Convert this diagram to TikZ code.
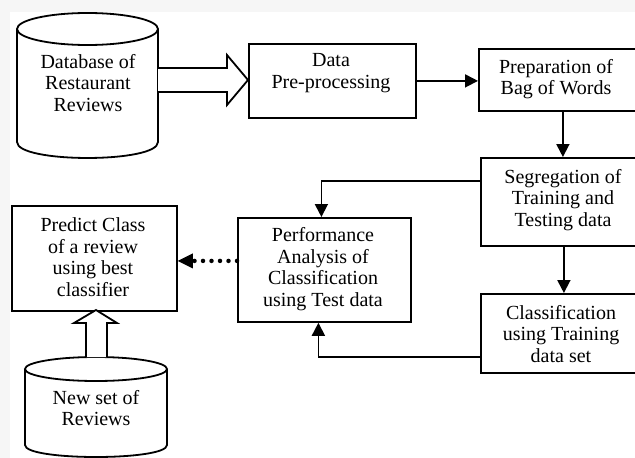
\documentclass[tikz,border=0pt]{standalone}
\usepackage{fontspec}
\setmainfont{Liberation Serif}
\usetikzlibrary{arrows.meta,calc}
\begin{document}
\begin{tikzpicture}[x=1pt,y=-1pt,
  box/.style={draw, line width=1.8pt, rectangle, anchor=north west, inner sep=0pt},
  txt/.style={align=center, inner sep=0pt, font=\fontsize{20}{21.5}\selectfont},
  conn/.style={line width=1.8pt, -{Triangle[length=13pt,width=13pt]}},
  dotarrow/.style={line width=4.5pt, dash pattern=on 0pt off 8.5pt, line cap=round,
    -{Triangle[length=15pt,width=15pt,line width=0pt]}},
  shape line/.style={line width=1.8pt, fill=white, line join=miter}
]
\useasboundingbox (0,0) rectangle (635,458);
\fill[gray!7] (0,0) rectangle (635,458);
\fill[white] (10,12) rectangle (635,458);

% database cylinder
\draw[shape line] (17,29) -- (17,142) .. controls (17,163.3) and (158,163.3) .. (158,142) -- (158,29);
\draw[shape line] (87.5,29) ellipse [x radius=70.5, y radius=16];
\node[txt] (dbt) at (88,83) {Database of\\Restaurant\\Reviews};

% boxes
\node[box, minimum width=167pt, minimum height=74pt] (pre) at (248,43) {};
\node[txt] (pret) at (331,73) {Data\\Pre-processing};
\node[box, minimum width=168pt, minimum height=62pt] (prep) at (478,48) {};
\node[txt] (prept) at (556,79) {Preparation of\\Bag of Words};
\node[box, minimum width=166pt, minimum height=88pt] (seg) at (480,157) {};
\node[txt] (segt) at (563,200) {Segregation of\\Training and\\Testing data};
\node[box, minimum width=173pt, minimum height=104pt] (perf) at (237,217) {};
\node[txt] (perft) at (323,269) {Performance\\Analysis of\\Classification\\using Test data};
\node[box, minimum width=166pt, minimum height=79pt] (cls) at (480,293) {};
\node[txt] (clst) at (561,334) {Classification\\using Training\\data set};
\node[box, minimum width=165pt, minimum height=105pt] (pred) at (11,205) {};
\node[txt] (predt) at (93,257) {Predict Class\\of a review\\using best\\classifier};

% new set cylinder
\draw[shape line] (25,369) -- (25,445) .. controls (25,461) and (167,461) .. (167,445) -- (167,369);
\draw[shape line] (96,369) ellipse [x radius=71, y radius=12];
\node[txt] (newt) at (96,408) {New set of\\Reviews};

% block arrows
\draw[shape line] (158,68) -- (227,68) -- (227,55) -- (248,80) -- (227,105) -- (227,92) -- (158,92);
\draw[shape line] (86,357) -- (86,323) -- (74,323) -- (96,310) -- (117,323) -- (107,323) -- (107,357);

% connectors
\draw[conn] (pre.east) -- (pre.east -| prep.west);
\draw[conn] (prep.south) -- (prep.south |- seg.north);
\coordinate (s1) at ($(seg.west)+(0,-21)$);
\draw[conn] (s1) -| ($(perf.north)+(-3,0)$);
\draw[conn] (seg.south) -- (seg.south |- cls.north);
\coordinate (c1) at ($(cls.west)+(0,23.5)$);
\draw[conn] (c1) -| ($(perf.south)+(-6,0)$);
\coordinate (d1) at ($(perf.west)+(0,-9)$);
\draw[dotarrow] (d1) -- (d1 -| pred.east);
\end{tikzpicture}
\end{document}
